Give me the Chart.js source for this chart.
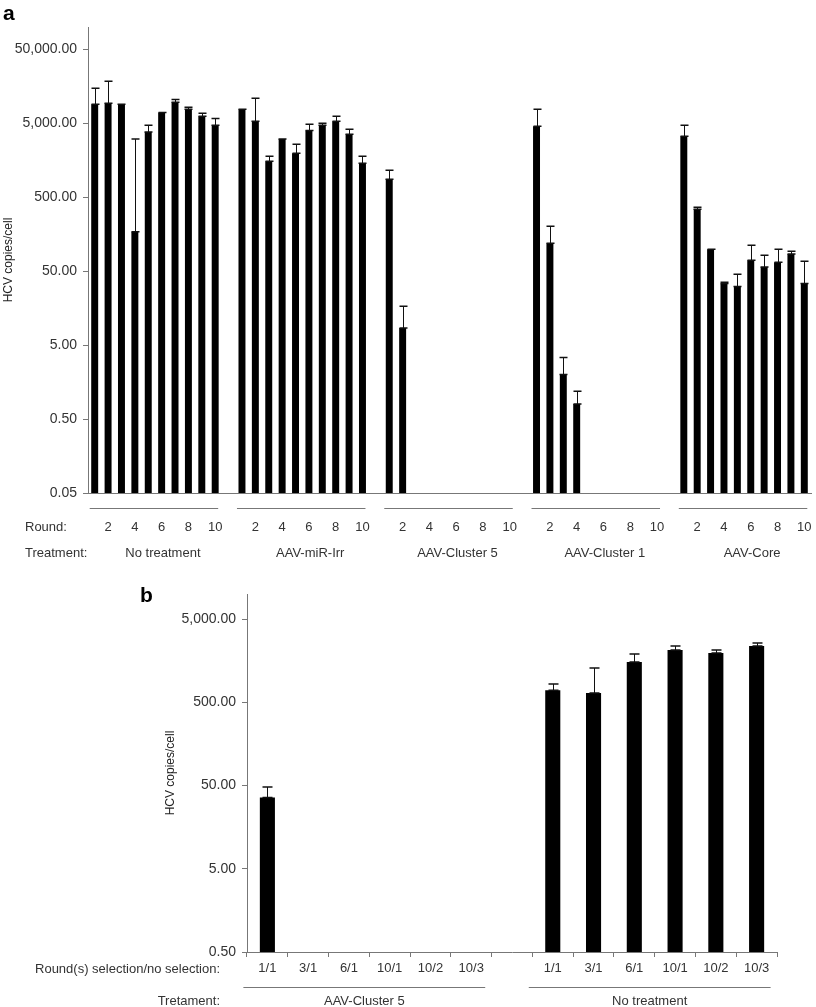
<!DOCTYPE html>
<html lang="en">
<head>
<meta charset="UTF-8">
<title>HCV copies/cell</title>
<script src="https://cdn.jsdelivr.net/npm/chart.js@4.4.1/dist/chart.umd.min.js"></script>
<style>
  body { margin: 0; background: #fff; }
  canvas { position: absolute; left: 0; }
  #chartA { top: 0; }
  #chartB { top: 560px; }
</style>
</head>
<body>
<canvas id="chartA" width="816" height="575"></canvas>
<canvas id="chartB" width="816" height="447"></canvas>
<script>
// ---- panel a data ----
const aGroups = ['No treatment', 'AAV-miR-Irr', 'AAV-Cluster 5', 'AAV-Cluster 1', 'AAV-Core'];
const aRounds = [1, 2, 3, 4, 5, 6, 7, 8, 9, 10];
const aTicks = [0.05, 0.5, 5, 50, 500, 5000, 50000];

const noTreatment    = [9000, 9300, 9000, 170, 3800, 7000, 9600, 7700, 6200, 4700];
const noTreatmentErr = [14900, 18500, 9000, 3050, 4700, 7000, 10500, 8200, 6800, 5800];
const miRIrr         = [7700, 5300, 1530, 3050, 1970, 4000, 4700, 5300, 3550, 1440];
const miRIrrErr      = [7700, 10900, 1790, 3050, 2600, 4850, 5000, 6200, 4150, 1790];
const cluster5       = [875, 8.5, null, null, null, null, null, null, null, null];
const cluster5Err    = [1160, 16.8, null, null, null, null, null, null, null, null];
const cluster1       = [4550, 119, 2.0, 0.8, null, null, null, null, null, null];
const cluster1Err    = [7700, 203, 3.4, 1.19, null, null, null, null, null, null];
const core           = [3340, 344, 99, 34, 31, 70, 57, 66, 85, 34];
const coreErr        = [4700, 366, 99, 35.5, 45.5, 112, 82, 99, 93, 68];

// ---- panel b data ----
const bGroups = ['AAV-Cluster 5', 'No treatment'];
const bRounds = ['1/1', '3/1', '6/1', '10/1', '10/2', '10/3'];
const bTicks = [0.5, 5, 50, 500, 5000];
const bCluster5      = [36, null, null, null, null, null];
const bCluster5Err   = [48, null, null, null, null, null];
const bNoTreat       = [700, 646, 1520, 2120, 1950, 2370];
const bNoTreatErr    = [828, 1290, 1900, 2370, 2120, 2570];

const FONT = "'Liberation Sans', Arial, Helvetica, sans-serif";
const TXT = '#333';
const AXIS = '#777';

function fmt(v) {
  return Number(v).toLocaleString('en-US', { minimumFractionDigits: 2, maximumFractionDigits: 2 });
}

// build panel a category table, one blank slot between groups
const aLabels = [], aData = [], aErr = [];
const aSeries = [[noTreatment, noTreatmentErr], [miRIrr, miRIrrErr], [cluster5, cluster5Err], [cluster1, cluster1Err], [core, coreErr]];
aSeries.forEach(function (s, gi) {
  aRounds.forEach(function (r, i) {
    aLabels.push(String(r));
    aData.push(s[0][i]);
    aErr.push(s[1][i]);
  });
  if (gi < aSeries.length - 1) { aLabels.push(''); aData.push(null); aErr.push(null); }
});

const bLabels = [], bData = [], bErr = [];
[[bCluster5, bCluster5Err], [bNoTreat, bNoTreatErr]].forEach(function (s, gi) {
  bRounds.forEach(function (r, i) {
    bLabels.push(r);
    bData.push(s[0][i]);
    bErr.push(s[1][i]);
  });
  if (gi === 0) { bLabels.push(''); bData.push(null); bErr.push(null); }
});

// error bars: upper whisker with caps
const errorBars = {
  id: 'errorBars',
  afterDatasetsDraw(chart, args, opts) {
    const ctx = chart.ctx;
    const y = chart.scales.y;
    const meta = chart.getDatasetMeta(0);
    const errs = opts.values;
    ctx.save();
    ctx.strokeStyle = '#111';
    meta.data.forEach(function (bar, i) {
      const v = chart.data.datasets[0].data[i];
      if (v == null || errs[i] == null) return;
      const top = y.getPixelForValue(errs[i]);
      const x = Math.round(bar.x) + 0.5;
      const hw = opts.cap / 2;
      ctx.lineWidth = 1;
      ctx.beginPath();
      ctx.moveTo(x, bar.y);
      ctx.lineTo(x, top);
      ctx.stroke();
      ctx.lineWidth = 1.5;
      ctx.beginPath();
      ctx.moveTo(x - hw, top); ctx.lineTo(x + hw, top);
      ctx.moveTo(x - hw, bar.y); ctx.lineTo(x + hw, bar.y);
      ctx.stroke();
    });
    ctx.restore();
  }
};

// panel a annotations
const panelAText = {
  id: 'panelAText',
  afterDraw(chart) {
    const ctx = chart.ctx;
    const x = chart.scales.x;
    ctx.save();
    ctx.fillStyle = '#000';
    ctx.font = 'bold 21px ' + FONT;
    ctx.textBaseline = 'alphabetic';
    ctx.textAlign = 'left';
    ctx.fillText('a', 3, 20);

    ctx.font = '13px ' + FONT;
    ctx.fillStyle = TXT;
    ctx.textBaseline = 'middle';
    ctx.fillText('Round:', 25, 527);
    ctx.fillText('Treatment:', 25, 553);

    ctx.strokeStyle = AXIS;
    ctx.lineWidth = 1;
    aGroups.forEach(function (g, gi) {
      const first = gi * 11, last = gi * 11 + 9;
      const x0 = x.getPixelForValue(first), x1 = x.getPixelForValue(last);
      ctx.beginPath();
      ctx.moveTo(x0 - 5, 508.5);
      ctx.lineTo(x1 + 3, 508.5);
      ctx.stroke();
      ctx.textAlign = 'center';
      aRounds.forEach(function (r, i) {
        if (r % 2 === 0) ctx.fillText(String(r), x.getPixelForValue(first + i), 527);
      });
      ctx.fillText(g, (x0 + x1) / 2 + 8, 553);
    });
    ctx.restore();
  }
};

// panel b annotations
const panelBText = {
  id: 'panelBText',
  afterDraw(chart) {
    const ctx = chart.ctx;
    const x = chart.scales.x;
    ctx.save();
    ctx.fillStyle = '#000';
    ctx.font = 'bold 21px ' + FONT;
    ctx.textAlign = 'left';
    ctx.textBaseline = 'alphabetic';
    ctx.fillText('b', 140, 42);

    ctx.font = '13px ' + FONT;
    ctx.fillStyle = TXT;
    ctx.textBaseline = 'middle';
    ctx.textAlign = 'right';
    ctx.fillText('Round(s) selection/no selection:', 220, 409);
    ctx.fillText('Tretament:', 220, 441);

    ctx.strokeStyle = AXIS;
    ctx.lineWidth = 1;
    ctx.textAlign = 'center';
    bGroups.forEach(function (g, gi) {
      const first = gi * 7, last = gi * 7 + 5;
      const x0 = x.getPixelForValue(first), x1 = x.getPixelForValue(last);
      ctx.beginPath();
      ctx.moveTo(x0 - 24, 427.5);
      ctx.lineTo(x1 + 14, 427.5);
      ctx.stroke();
      ctx.fillText(g, (x0 + x1) / 2 - 5, 441);
    });
    ctx.restore();
  }
};

function logAxis(ticks, min, max, width) {
  return {
    type: 'logarithmic',
    min: min,
    max: max,
    afterBuildTicks: function (s) { s.ticks = ticks.map(function (v) { return { value: v }; }); },
    afterFit: function (s) { s.width = width; },
    border: { display: true, color: AXIS, width: 1 },
    grid: { drawOnChartArea: false, drawTicks: true, tickLength: 5, color: AXIS },
    ticks: {
      padding: 6,
      color: TXT,
      font: { family: FONT, size: 14 },
      callback: function (v) { return fmt(v); }
    },
    title: {
      display: true,
      text: 'HCV copies/cell',
      color: '#222',
      font: { family: FONT, size: 12 },
      padding: { top: 1, bottom: 0 }
    }
  };
}

new Chart(document.getElementById('chartA'), {
  type: 'bar',
  data: {
    labels: aLabels,
    datasets: [{
      data: aData,
      backgroundColor: '#000',
      barPercentage: 0.52,
      categoryPercentage: 1
    }]
  },
  options: {
    responsive: false,
    animation: false,
    devicePixelRatio: 1,
    layout: { padding: { left: 0, top: 27, right: 5, bottom: 0 } },
    plugins: {
      legend: { display: false },
      tooltip: { enabled: false },
      errorBars: { values: aErr, cap: 8 }
    },
    scales: {
      x: {
        type: 'category',
        offset: true,
        afterFit: function (s) { s.height = 82; },
        border: { display: true, color: AXIS, width: 1 },
        grid: { display: false },
        ticks: { display: false }
      },
      y: logAxis(aTicks, 0.05, 100000, 88)
    }
  },
  plugins: [errorBars, panelAText]
});

new Chart(document.getElementById('chartB'), {
  type: 'bar',
  data: {
    labels: bLabels,
    datasets: [{
      data: bData,
      backgroundColor: '#000',
      barPercentage: 0.37,
      categoryPercentage: 1
    }]
  },
  options: {
    responsive: false,
    animation: false,
    devicePixelRatio: 1,
    layout: { padding: { left: 162, top: 34, right: 39, bottom: 0 } },
    plugins: {
      legend: { display: false },
      tooltip: { enabled: false },
      errorBars: { values: bErr, cap: 10 }
    },
    scales: {
      x: {
        type: 'category',
        offset: true,
        afterFit: function (s) { s.height = 55; },
        border: { display: true, color: AXIS, width: 1 },
        grid: { drawOnChartArea: false, drawTicks: true, tickLength: 5, color: AXIS, offset: true },
        ticks: { padding: 4, color: TXT, font: { family: FONT, size: 13 }, maxRotation: 0, autoSkip: false }
      },
      y: logAxis(bTicks, 0.5, 10000, 85)
    }
  },
  plugins: [errorBars, panelBText]
});
</script>
</body>
</html>
